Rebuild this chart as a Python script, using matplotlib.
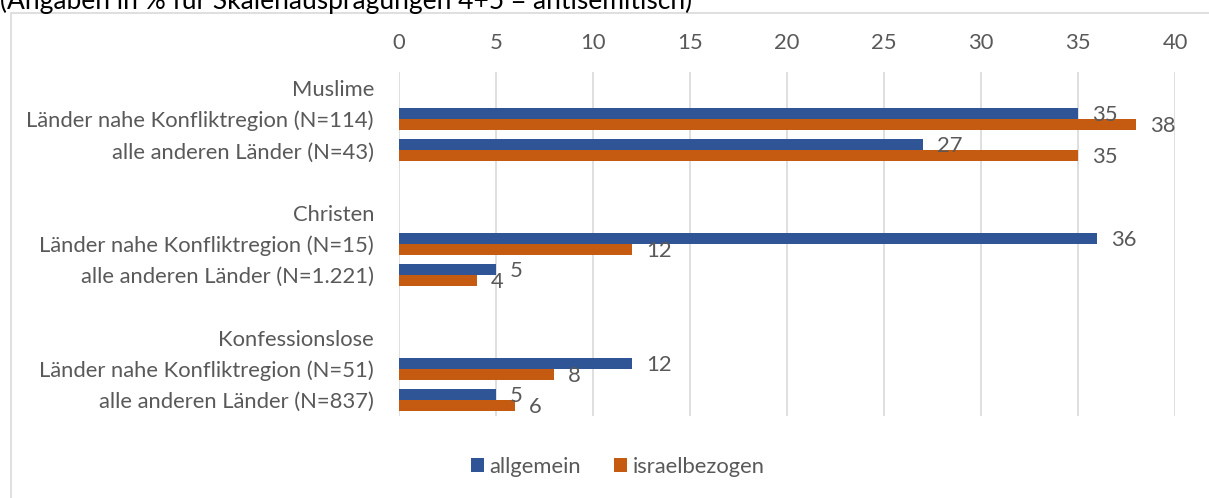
import matplotlib
matplotlib.use("Agg")
import matplotlib.pyplot as plt
from matplotlib.patches import Rectangle
import numpy as np

plt.rcParams['font.family'] = ['Lato', 'DejaVu Sans']

categories = ["Muslime", "Länder nahe Konfliktregion (N=114)", "alle anderen Länder (N=43)", "",
              "Christen", "Länder nahe Konfliktregion (N=15)", "alle anderen Länder (N=1.221)", "",
              "Konfessionslose", "Länder nahe Konfliktregion (N=51)", "alle anderen Länder (N=837)"]
allgemein = [None, 35, 27, None, None, 36, 5, None, None, 12, 5]
israelbezogen = [None, 38, 35, None, None, 12, 4, None, None, 8, 6]
series_names = ["allgemein", "israelbezogen"]
xticks = [0, 5, 10, 15, 20, 25, 30, 35, 40]
title = "(Angaben in % für Skalenausprägungen 4+5 = antisemitisch)"

BLUE = "#2F5597"
ORANGE = "#C55A11"
GRAY = "#595959"
FS = 15.8

W, H = 1209, 498
fig = plt.figure(figsize=(W/100, H/100), dpi=100)

# chart area border
fig.patches.append(Rectangle((11/W, -0.1), 1.2, 1 - 13/H + 0.1, transform=fig.transFigure,
                             fill=False, edgecolor="#D9D9D9", linewidth=1.2))

left, right = 399/W, 1175/W
top, bottom = 1 - 72.4/H, 1 - 415.6/H
ax = fig.add_axes([left, bottom, right - left, top - bottom])

n = len(categories)
y = np.arange(n)
h = 0.35
ya = [i for i in range(n) if allgemein[i] is not None]
va = [allgemein[i] for i in ya]
vi = [israelbezogen[i] for i in ya]
ax.barh(np.array(ya) - h/2, va, height=h, color=BLUE, label=series_names[0], zorder=3)
ax.barh(np.array(ya) + h/2, vi, height=h, color=ORANGE, label=series_names[1], zorder=3)

for yy, v in zip(ya, va):
    ax.annotate(str(v), (v, yy - h/2), xytext=(10, -1), textcoords="offset points",
                ha="left", va="center", fontsize=FS, color=GRAY)
for yy, v in zip(ya, vi):
    ax.annotate(str(v), (v, yy + h/2), xytext=(10, -1), textcoords="offset points",
                ha="left", va="center", fontsize=FS, color=GRAY)

ax.set_ylim(n - 0.5, -0.5)
ax.set_xlim(0, 40)
ax.set_yticks(y)
ax.set_yticklabels(categories, fontsize=FS, color=GRAY)
ax.set_xticks(xticks)
ax.set_xticklabels([str(t) for t in xticks], fontsize=FS, color=GRAY)
ax.xaxis.tick_top()
ax.tick_params(axis='x', length=0, pad=14)
ax.tick_params(axis='y', length=0, pad=18)
for s in ax.spines.values():
    s.set_visible(False)
ax.grid(axis='x', color="#D9D9D9", linewidth=1.2, zorder=0)
ax.set_axisbelow(True)

leg = fig.legend(loc="center", bbox_to_anchor=(618/W, 1 - 467/H), ncol=2, frameon=False,
                 fontsize=FS, handlelength=0.6, handleheight=0.6, handletextpad=0.25,
                 columnspacing=1.5)
for t in leg.get_texts():
    t.set_color(GRAY)

fig.text(0, 1 - 1/H, title, ha="left", va="center", fontsize=19, color="black")

fig.savefig("out.png", dpi=100)
